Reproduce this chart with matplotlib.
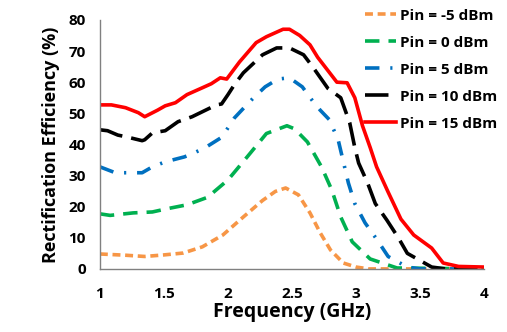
import matplotlib
matplotlib.use('Agg')
import matplotlib.pyplot as plt

plt.rcParams['font.family'] = ['Open Sans', 'DejaVu Sans']
plt.rcParams['font.weight'] = 'bold'

# frequency (GHz) / efficiency (%)
f_m5 = [1.0, 1.2, 1.35, 1.5, 1.65, 1.8, 1.96, 2.12, 2.27, 2.37, 2.45, 2.55, 2.64, 2.72, 2.8, 2.9, 3.0, 3.1, 4.0]
e_m5 = [4.8, 4.4, 4.0, 4.5, 5.1, 7.1, 10.9, 16.7, 22.0, 24.9, 26.0, 23.8, 18.0, 11.6, 6.1, 1.9, 0.6, 0.0, 0.0]

f_0 = [1.0, 1.08, 1.26, 1.41, 1.52, 1.68, 1.84, 2.0, 2.15, 2.3, 2.46, 2.52, 2.62, 2.73, 2.81, 2.88, 2.97, 3.11, 3.32, 4.0]
e_0 = [17.7, 17.2, 18.0, 18.3, 19.3, 20.6, 23.0, 28.6, 36.0, 43.5, 46.0, 45.0, 40.8, 32.8, 25.4, 16.7, 8.7, 3.2, 0.3, 0.0]

f_5 = [1.0, 1.12, 1.21, 1.33, 1.41, 1.51, 1.66, 1.72, 1.82, 1.94, 1.99, 2.05, 2.13, 2.2, 2.29, 2.39, 2.48,
       2.58, 2.66, 2.72, 2.79, 2.86, 2.94, 2.99, 3.07, 3.16, 3.25, 3.4, 3.5, 4.0]
e_5 = [32.8, 30.9, 30.9, 30.9, 32.8, 34.4, 36.0, 37.0, 38.9, 42.0, 44.7, 48.5, 52.0, 55.0, 58.5, 61.0, 61.4,
       58.5, 54.0, 51.0, 48.0, 41.5, 27.6, 21.0, 14.8, 9.6, 4.0, 0.6, 0.0, 0.0]

f_10 = [1.0, 1.06, 1.14, 1.21, 1.33, 1.35, 1.41, 1.51, 1.61, 1.72, 1.8, 1.91, 1.95, 2.0, 2.05, 2.12, 2.27,
        2.38, 2.48, 2.59, 2.66, 2.78, 2.88, 2.95, 2.99, 3.02, 3.09, 3.15, 3.24, 3.33, 3.4, 3.59, 3.7, 4.0]
e_10 = [44.7, 44.4, 43.0, 42.4, 41.2, 41.5, 43.7, 44.4, 47.3, 48.9, 50.5, 52.7, 53.0, 56.0, 59.2, 63.0, 68.8,
        71.0, 71.0, 68.8, 65.0, 58.0, 55.0, 47.0, 39.0, 34.0, 27.6, 21.0, 15.7, 10.0, 5.0, 0.6, 0.0, 0.0]

f_15 = [1.0, 1.09, 1.2, 1.3, 1.35, 1.45, 1.51, 1.59, 1.68, 1.8, 1.87, 1.94, 1.99, 2.09, 2.22, 2.3, 2.43, 2.48,
        2.56, 2.64, 2.7, 2.85, 2.93, 2.99, 3.05, 3.11, 3.16, 3.25, 3.35, 3.45, 3.59, 3.68, 3.8, 4.0]
e_15 = [52.7, 52.7, 51.8, 50.2, 48.9, 51.0, 52.4, 53.4, 56.0, 58.2, 59.5, 61.4, 61.0, 66.5, 72.7, 74.6, 77.0, 77.0,
        75.0, 72.0, 68.0, 60.0, 59.8, 55.0, 46.0, 39.0, 32.8, 24.7, 16.0, 10.9, 6.7, 1.9, 0.8, 0.6]

fig = plt.figure(figsize=(5.07, 3.32), dpi=100)
ax = fig.add_axes([0.197, 0.19, 0.758, 0.75])

ax.plot(f_m5, e_m5, color='#f79646', lw=2.6, dashes=(2.2, 1.3), label='Pin = -5 dBm')
ax.plot(f_0, e_0, color='#00b050', lw=2.6, dashes=(4, 2.5), label='Pin = 0 dBm')
ax.plot(f_5, e_5, color='#0070c0', lw=2.6, dashes=(4, 3, 0.6, 3), label='Pin = 5 dBm')
ax.plot(f_10, e_10, color='black', lw=2.6, dashes=(6.5, 2.5), label='Pin = 10 dBm')
ax.plot(f_15, e_15, color='#ff0000', lw=2.6, label='Pin = 15 dBm')

ax.set_xlim(1, 4)
ax.set_ylim(0, 80)
ax.set_xticks([1, 1.5, 2, 2.5, 3, 3.5, 4])
ax.set_xticklabels(['1', '1.5', '2', '2.5', '3', '3.5', '4'])
ax.set_yticks(range(0, 81, 10))
ax.tick_params(length=0, labelsize=11)
ax.tick_params(axis='x', pad=13)
ax.tick_params(axis='y', pad=10)
for s in ['top', 'right']:
    ax.spines[s].set_visible(False)
for s in ['left', 'bottom']:
    ax.spines[s].set_color('#808080')
    ax.spines[s].set_linewidth(1)

ax.set_xlabel('Frequency (GHz)', fontsize=14, fontweight='bold', labelpad=1)
ax.set_ylabel('Rectification Efficiency (%)', fontsize=13, fontweight='bold', labelpad=6)

leg = ax.legend(loc='upper right', bbox_to_anchor=(1.07, 1.1), frameon=False, fontsize=11,
                handlelength=2.0, handletextpad=0.3, labelspacing=0.85)

fig.savefig('out.png', dpi=100)
